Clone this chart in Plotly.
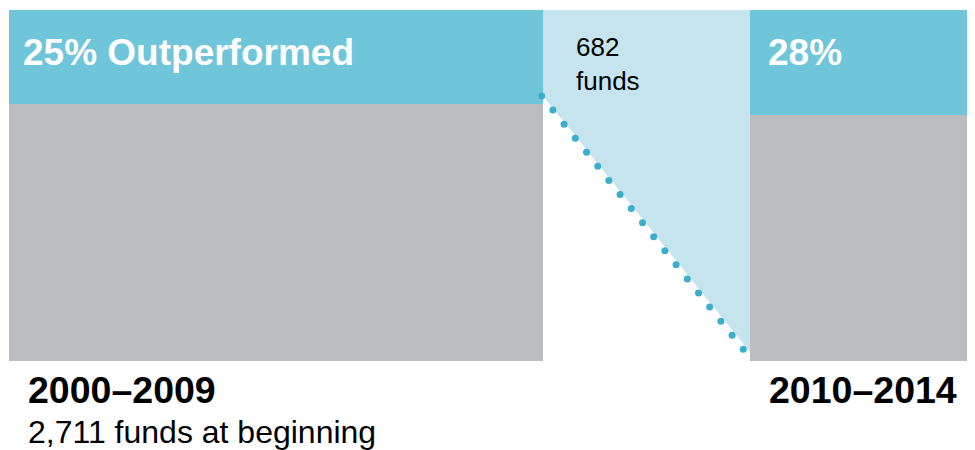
import numpy as np
import plotly.graph_objects as go

# ---- data ----
periods = ["2000–2009", "2010–2014"]
outperformed_pct = [25, 28]
funds_at_beginning = [2711, 682]
period_notes = ["2,711 funds at beginning", ""]

# ---- colours ----
TEAL = "#6FC5D9"
GRAY = "#BCBDC1"
LIGHT = "#C6E4EE"
DOT = "#3AAECC"

WIN_W, WIN_H = 975, 450
PAGE_OFF = 8           # default page margin of the html body
W, H = WIN_W - PAGE_OFF, WIN_H - PAGE_OFF
TOP_PX = 10            # window pixel where 100% sits
PX_PER_PCT = 3.76      # vertical scale
FLOOR = 6.65           # bottom of the visible column (percent units)

def y_of_px(p):
    return 100 - (p - TOP_PX) / PX_PER_PCT

# column extents (x in window-pixel-like units)
col_x0 = [9, 750]
col_x1 = [543, 990]
centers = [(a + b) / 2 for a, b in zip(col_x0, col_x1)]
widths = [b - a for a, b in zip(col_x0, col_x1)]

rest_top = [100 - p for p in outperformed_pct]

fig = go.Figure()
# gray (did not outperform)
fig.add_trace(go.Bar(x=centers, y=[t - FLOOR for t in rest_top], base=[FLOOR] * 2,
                     width=widths, marker=dict(color=GRAY, line=dict(width=0)),
                     hoverinfo="skip", showlegend=False))
# teal (outperformed)
fig.add_trace(go.Bar(x=centers, y=outperformed_pct, base=rest_top,
                     width=widths, marker=dict(color=TEAL, line=dict(width=0)),
                     hoverinfo="skip", showlegend=False))

# connector region: outperformers of period 1 flowing into period 2
x_a, x_b = col_x1[0], col_x0[1]
y_a = rest_top[0] + 8 / PX_PER_PCT
y_b = FLOOR + 9 / PX_PER_PCT
fig.add_trace(go.Scatter(x=[x_a, x_b, x_b, x_a, x_a], y=[100, 100, y_b, y_a, 100],
                         mode="lines", fill="toself", fillcolor=LIGHT,
                         line=dict(width=0, color=LIGHT), hoverinfo="skip", showlegend=False))

# dotted edge (decorative)
n_dots = 19
dx0, dy0 = x_a - 1.3, rest_top[0] + 8 / PX_PER_PCT
dx1, dy1 = x_b - 6.7, FLOOR + 11.7 / PX_PER_PCT
t = np.linspace(0, 1, n_dots)
fig.add_trace(go.Scatter(x=dx0 + (dx1 - dx0) * t, y=dy0 + (dy1 - dy0) * t,
                         mode="markers", marker=dict(size=7, color=DOT),
                         hoverinfo="skip", showlegend=False))

FONT = "Liberation Sans, Arial, sans-serif"

def ann(text, x, ypx, size, color, bold=False, yanchor="middle"):
    fig.add_annotation(x=x, y=y_of_px(ypx), xref="x", yref="y", text=text,
                       showarrow=False, xanchor="left", yanchor=yanchor, align="left",
                       font=dict(family=FONT, size=size, color=color,
                                 weight="bold" if bold else "normal"))

ann(f"{outperformed_pct[0]}% Outperformed", 21, 52, 37, "white", bold=True)
ann(f"{outperformed_pct[1]}%", 766, 52, 37, "white", bold=True)
ann(f"{funds_at_beginning[1]}<br>funds", 574, 30, 26, "black", yanchor="top")
ann(f"{periods[0]}", 26, 390, 37.5, "black", bold=True)
ann(period_notes[0], 26, 432, 32, "black")
ann(f"{periods[1]}", 767, 390, 37.5, "black", bold=True)

fig.update_layout(
    width=W, height=H, margin=dict(l=0, r=0, t=0, b=0),
    paper_bgcolor="white", plot_bgcolor="white",
    barmode="overlay", bargap=0,
    xaxis=dict(range=[PAGE_OFF, WIN_W], visible=False, fixedrange=True),
    yaxis=dict(range=[y_of_px(WIN_H), y_of_px(PAGE_OFF)], visible=False, fixedrange=True),
)

fig.write_html("out.html")
